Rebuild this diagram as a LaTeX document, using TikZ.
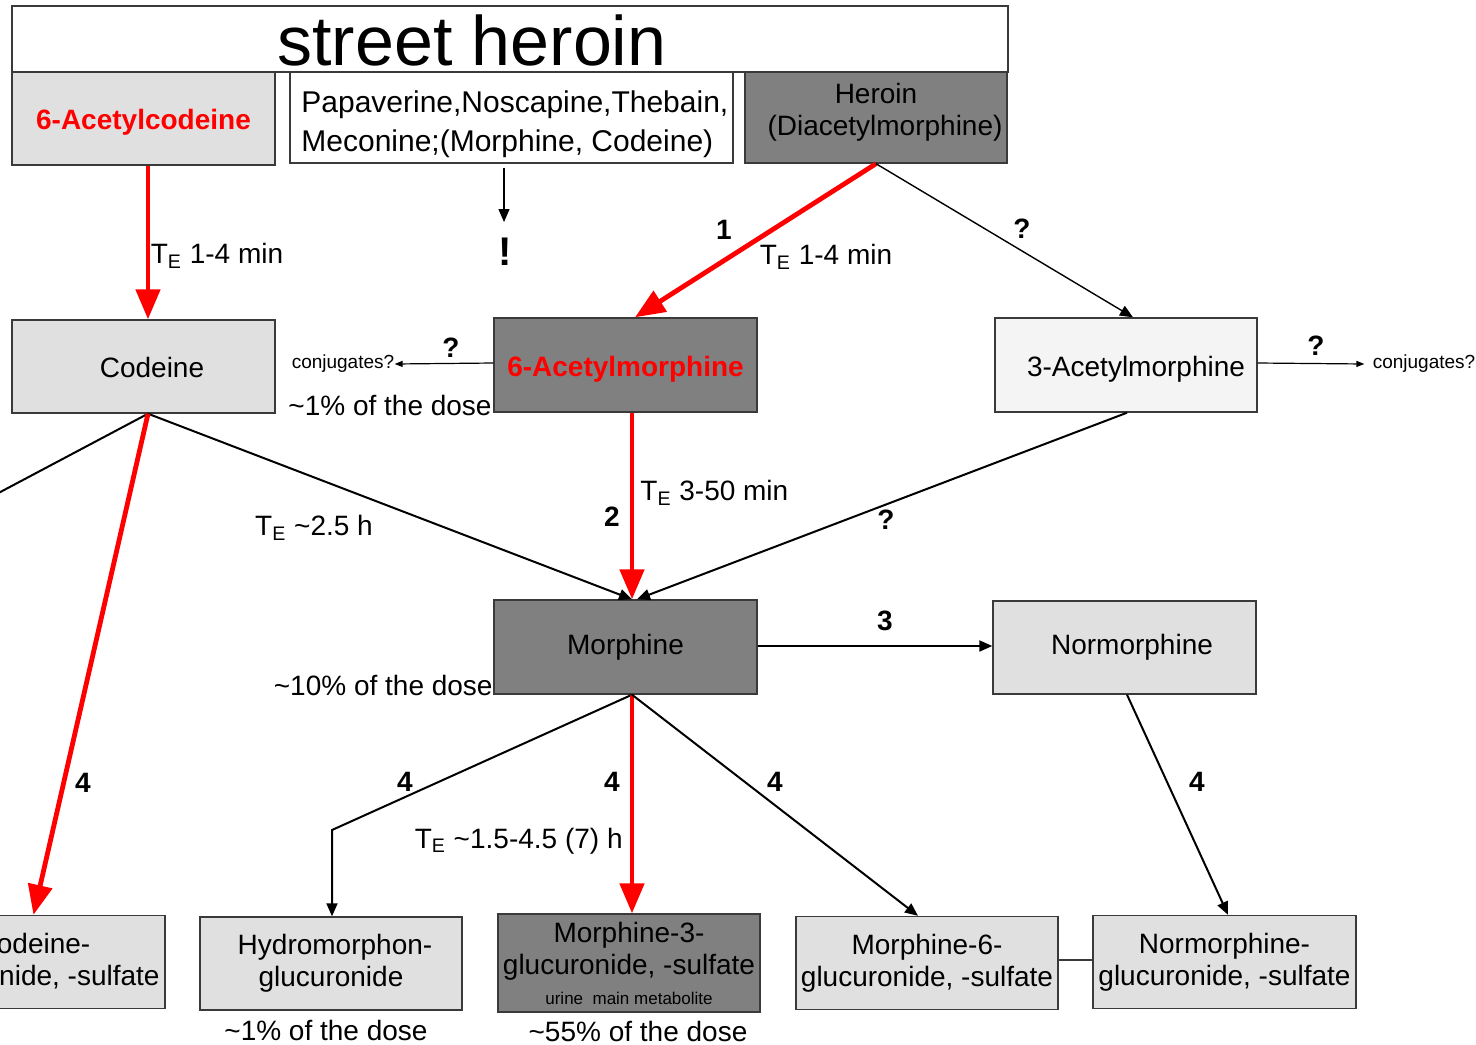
\documentclass[tikz,border=0pt]{standalone}
\usepackage{fontspec}
\setmainfont{Liberation Sans}
\usetikzlibrary{arrows.meta,calc}

\definecolor{boxlight}{HTML}{E0E0E0}
\definecolor{boxdark}{HTML}{808080}
\definecolor{boxpale}{HTML}{F4F4F4}
\definecolor{edgegray}{HTML}{3A3A3A}

\tikzset{
  chem/.style={draw=edgegray, line width=0.7pt, minimum width=131.5pt,
    minimum height=46.5pt, inner sep=1pt, align=center,
    font=\fontsize{14}{16}\selectfont},
  oneline/.style={text height=11pt, text depth=0pt},
  light/.style={chem, fill=boxlight},
  dark/.style={chem, fill=boxdark},
  pale/.style={chem, fill=boxpale},
  redname/.style={text=red, font=\fontsize{14}{16}\selectfont\bfseries},
  major/.style={draw=red, line width=2.4pt, -{Triangle[length=15pt,width=12pt]}},
  minor/.style={draw=black, line width=1pt, -{Triangle[length=6.5pt,width=5.5pt]}},
  fine/.style={draw=black, line width=0.7pt, -{Triangle[length=6.5pt,width=5.5pt]}},
  tiny/.style={draw=black, line width=0.6pt, -{Triangle[length=4pt,width=3pt]}},
  num/.style={font=\fontsize{14}{16}\selectfont\bfseries, inner sep=0pt},
  lbl/.style={font=\fontsize{14}{16}\selectfont, inner sep=0pt},
  small/.style={font=\fontsize{9.5}{11}\selectfont, inner sep=0pt},
}

\begin{document}
\begin{tikzpicture}[x=0.5pt,y=-0.5pt]
\useasboundingbox (0,0) rectangle (1476,1044);
\clip (0,0) rectangle (1476,1044);
\fill[white] (0,0) rectangle (1476,1044);

% header
\node[draw=edgegray, line width=0.7pt, fill=white, minimum width=498pt,
  minimum height=33pt, inner sep=0pt] (title) at (510,39) {};
\node[font=\fontsize{35}{40}\selectfont, inner sep=0pt] (titletext) at (472,40) {street heroin};

% row 1: street heroin contents
\node[light, oneline, redname] (acod) at (143.5,118.5) {6-Acetylcodeine};
\node[draw=edgegray, line width=0.7pt, fill=white, minimum width=221.5pt,
  minimum height=45.5pt, inner sep=0pt] (papa) at (511.5,117.5) {};
\node[anchor=west, align=left, inner sep=0pt,
  font=\fontsize{15}{19.5}\selectfont] (papatext) at (301,124)
  {Papaverine,Noscapine,Thebain,\\Meconine;(Morphine, Codeine)};
\node[dark, minimum width=131pt, minimum height=45.5pt] (heroin) at (876,117.5) {};
\node[align=center, inner sep=0pt, font=\fontsize{14}{16}\selectfont]
  (heroinlbl) at (876,112) {Heroin\\\hspace*{9pt}(Diacetylmorphine)};

% row 2
\node[light, oneline] (codeine) at (143.5,366.5) {\hspace*{8.5pt}Codeine};
\node[dark, oneline, redname, minimum height=47pt] (am6) at (625.5,365) {6-Acetylmorphine};
\node[pale, oneline, minimum width=131pt, minimum height=47pt] (am3) at (1126,365)
  {\hspace*{10pt}3-Acetylmorphine};

% row 3
\node[dark, minimum height=47pt] (morph) at (625.5,647) {Morphine};
\node[light] (normorph) at (1124.5,647.5) {\hspace*{7.5pt}Normorphine};

% row 4: conjugates
\node[light] (codgluc) at (33.5,962) {Codeine-\\glucuronide, -sulfate};
\node[light, minimum width=131pt] (hydro) at (331,963.5) {\hspace*{4pt}Hydromorphon-\\glucuronide};
\node[dark, minimum width=131pt, minimum height=49pt] (m3g) at (629,963)
  {Morphine-3-\\glucuronide, -sulfate\\[-1pt]{\fontsize{8.5}{10}\selectfont urine\ \ main metabolite}};
\node[light, minimum width=131pt] (m6g) at (927,963) {Morphine-6-\\glucuronide, -sulfate};
\node[light] (nmg) at (1224.5,962) {Normorphine-\\glucuronide, -sulfate};

% free-standing labels
\node[font=\fontsize{20}{22}\selectfont\bfseries, inner sep=0pt] (excl) at (505,252) {!};
\coordinate (excltop) at (504,222);
\node[small] (conjl) at (343,364) {conjugates?};
\node[small] (conjr) at (1424,364) {conjugates?};
\coordinate (offleft) at (-60,524);
\coordinate (bend) at (332,830);

% pathways
\draw[major] ([xshift=2.25pt]acod.south) -- ([xshift=2.25pt]codeine.north);
\draw[fine] ([xshift=-3.75pt,yshift=-2pt]papa.south) -- (excltop);
\draw[major] (heroin.south) -- ([xshift=4.75pt]am6.north);
\draw[fine] (heroin.south) -- ([xshift=3.5pt]am3.north);
\draw[tiny] ([yshift=1pt]am6.west) -- (conjl.east);
\draw[tiny] ([yshift=1pt]am3.east) -- ([xshift=-4pt]conjr.west);
\draw[minor] ([xshift=2.25pt]codeine.south) -- ([xshift=3.25pt]morph.north);
\draw[draw=black, line width=1pt] ([xshift=2.25pt]codeine.south) -- (offleft);
\draw[minor] ([xshift=0.5pt]am3.south) -- ([xshift=5.75pt]morph.north);
\draw[major] ([xshift=3.25pt]am6.south) -- ([xshift=3.25pt]morph.north);
\draw[major] ([xshift=2.25pt]codeine.south) -- (codgluc.north);
\draw[minor] ([yshift=0.5pt]morph.east) -- ([yshift=0.5pt]morph.east -| normorph.west);
\draw[minor] ([xshift=3.25pt]morph.south) -- (bend) -- ([xshift=0.5pt]hydro.north);
\draw[major] ([xshift=3.25pt]morph.south) -- ([xshift=1.5pt]m3g.north);
\draw[minor] ([xshift=3.25pt]morph.south) -- ([xshift=-4.5pt]m6g.north);
\draw[minor] ([xshift=1.25pt]normorph.south) -- ([xshift=1.75pt]nmg.north);
\draw[draw=edgegray, line width=0.8pt] ([yshift=1.5pt]m6g.east) -- ([yshift=1.5pt]m6g.east -| nmg.west);

% step numbers and annotations
\node[lbl] (te1) at (217,256) {T\textsubscript{E} 1-4 min};
\node[num] (n1) at (724,230) {1};
\node[lbl] (te2) at (826,257) {T\textsubscript{E} 1-4 min};
\node[num] (q1) at (1022,229) {?};
\node[num] (q2) at (451,348) {?};
\node[lbl, anchor=east] (dose1) at (492,405) {\textasciitilde1\% of the dose};
\node[num] (q3) at (1316,346) {?};
\node[num] (n2) at (612,517) {2};
\node[lbl, anchor=west] (te3) at (640,493) {T\textsubscript{E} 3-50 min};
\node[lbl] (te4) at (314,528) {T\textsubscript{E} \textasciitilde2.5 h};
\node[num] (q4) at (886,520) {?};
\node[num] (n3) at (885,621) {3};
\node[lbl, anchor=east] (dose2) at (493,685) {\textasciitilde10\% of the dose};
\node[num] (n4a) at (83,783) {4};
\node[num] (n4b) at (405,782) {4};
\node[num] (n4c) at (612,782) {4};
\node[num] (n4d) at (775,782) {4};
\node[num] (n4e) at (1197,782) {4};
\node[lbl, anchor=east] (te5) at (623,841) {T\textsubscript{E} \textasciitilde1.5-4.5 (7) h};
\node[lbl] (dose3) at (326,1030) {\textasciitilde1\% of the dose};
\node[lbl] (dose4) at (638,1031) {\textasciitilde55\% of the dose};
\end{tikzpicture}
\end{document}
